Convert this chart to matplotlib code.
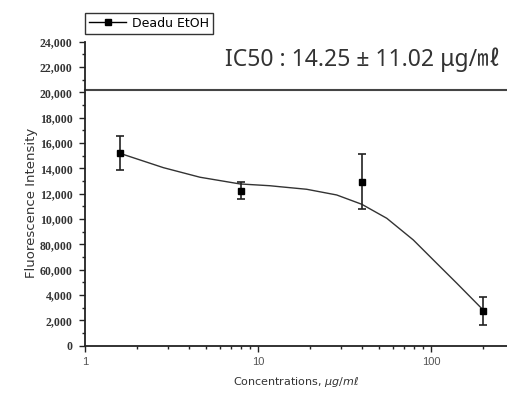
import matplotlib.pyplot as plt
from matplotlib.ticker import FixedLocator, FixedFormatter, MultipleLocator, LogLocator, NullFormatter

# measured points (concentration, mean, error)
conc = [1.6, 8, 40, 200]
intensity = [15200, 12240, 12950, 2760]
err = [1340, 680, 2150, 1100]

# fitted curve
curve_x = [1.59, 2.84, 4.62, 7.87, 11.7, 13.4, 19.1, 28.5, 39.8, 55.5, 79, 108, 141, 196]
curve_y = [15190, 14055, 13300, 12770, 12630, 12550, 12350, 11900, 11165, 10060, 8350, 6500, 4930, 2950]

ytick_vals = [0, 2000, 4000, 6000, 8000, 10000, 12000, 14000, 16000, 18000, 20000, 22000, 24000]
ytick_labels = ['0', '2,000', '4,000', '60,000', '80,000', '10,000', '12,000', '14,000',
                '16,000', '18,000', '20,000', '22,000', '24,000']
xtick_vals = [1, 10, 100]
xtick_labels = ['1', '10', '100']

fig = plt.figure(figsize=(5.07, 3.94), dpi=100)
ax = fig.add_axes([85/507, 1 - 345.7/394, 1 - 85/507, (345.7 - 41.7)/394])

ax.plot(curve_x, curve_y, color='#333333', lw=1.0)
ax.errorbar(conc, intensity, yerr=err, fmt='none', ecolor='#222222', elinewidth=1.2,
            capsize=3, capthick=1.2)
ax.plot(conc, intensity, 's', color='black', ms=4.5)

ax.axhline(20200, color='#444444', lw=1.5, clip_on=False)

ax.set_xscale('log')
ax.set_xlim(1, 275)
ax.set_ylim(0, 24000)

ax.xaxis.set_major_locator(FixedLocator(xtick_vals))
ax.xaxis.set_major_formatter(FixedFormatter(xtick_labels))
ax.xaxis.set_minor_locator(LogLocator(base=10, subs=range(2, 10)))
ax.xaxis.set_minor_formatter(NullFormatter())
ax.yaxis.set_major_locator(FixedLocator(ytick_vals))
ax.yaxis.set_major_formatter(FixedFormatter(ytick_labels))
ax.yaxis.set_minor_locator(MultipleLocator(1000))

ax.tick_params(which='major', length=4, width=1, color='#222222')
ax.tick_params(which='minor', length=2.5, width=1, color='#222222')
ax.tick_params(axis='y', labelsize=8.5, labelcolor='#333333', pad=5)
ax.tick_params(axis='x', labelsize=8, labelcolor='#555555', pad=4)
for lab in ax.get_yticklabels():
    lab.set_family('Liberation Serif')
    lab.set_fontweight('bold')
for lab in ax.get_xticklabels():
    lab.set_family('Liberation Sans')

for side in ['top', 'right']:
    ax.spines[side].set_visible(False)
for side in ['left', 'bottom']:
    ax.spines[side].set_linewidth(1.3)
    ax.spines[side].set_color('#222222')

ax.set_ylabel('Fluorescence Intensity', family='DejaVu Sans', fontsize=9.5, color='#333333')
ax.yaxis.set_label_coords(-0.112, 0.469)
ax.set_xlabel('Concentrations, $\\mathit{\\mu g/m\\ell}$', family='DejaVu Sans',
              fontsize=8, color='#333333')
ax.xaxis.set_label_coords(0.5, -0.097)

fig.text(0.987, 1 - 60/394, 'IC50 : 14.25 ± 11.02 μg/㎖', ha='right', va='center',
         fontsize=16.5, color='#333333', family=['Noto Sans', 'Noto Sans CJK KR'])

h, = ax.plot([], [], '-s', color='black', ms=4.5, lw=1)
fig.legend([h], ['Deadu EtOH'], loc='upper left', bbox_to_anchor=(85/507, 1 - 13/394),
           frameon=True, fancybox=False, edgecolor='black', handlelength=3.0,
           prop={'family': 'DejaVu Sans', 'size': 9}, borderpad=0.3,
           handletextpad=0.5, borderaxespad=0)

fig.savefig('out.png', dpi=100)
